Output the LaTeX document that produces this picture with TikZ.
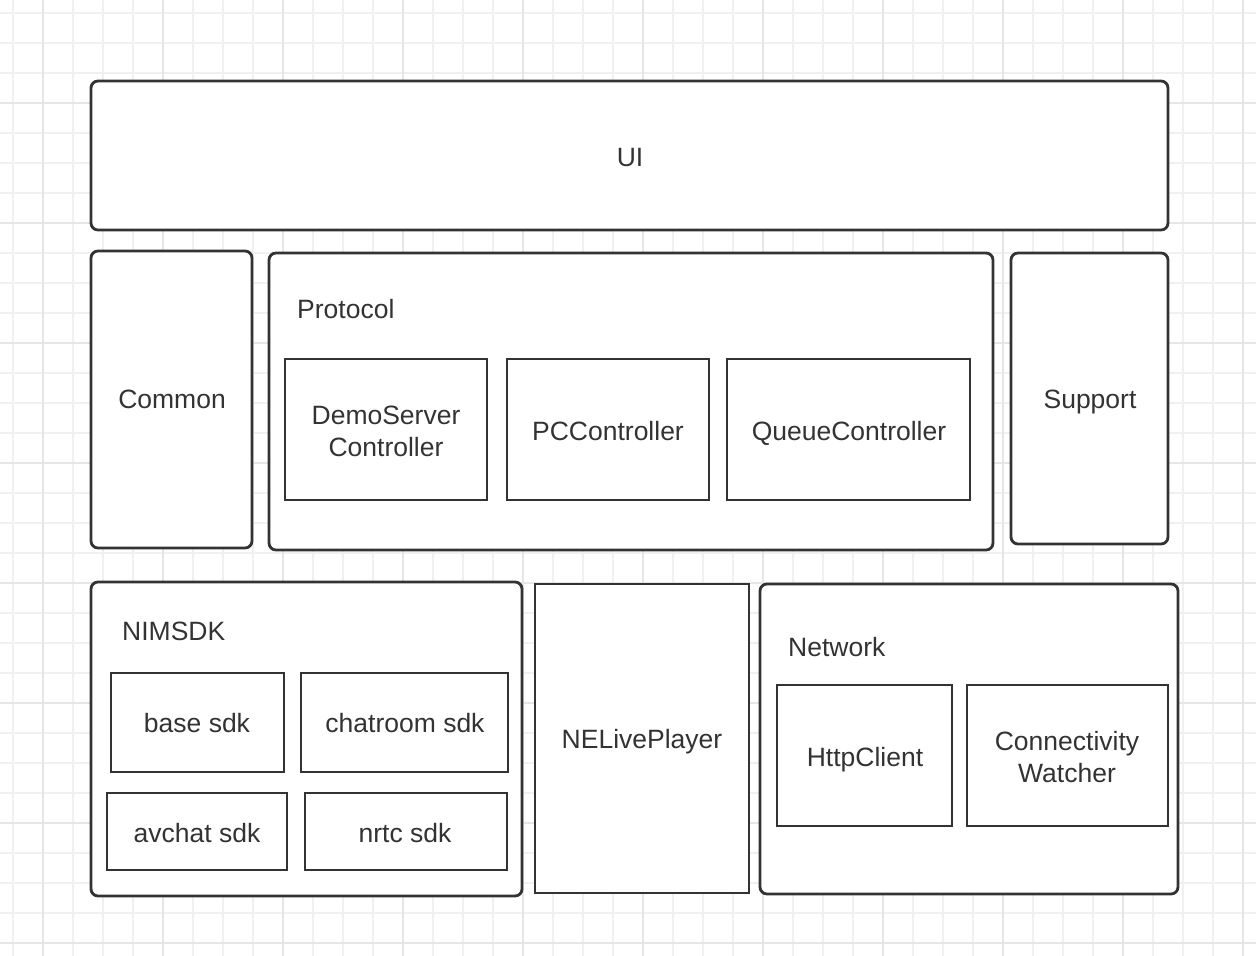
\documentclass[tikz,border=0pt]{standalone}
\usepackage{fontspec}
\setmainfont{Liberation Sans}
\begin{document}
\begin{tikzpicture}[x=1pt,y=-1pt,
  outer/.style={draw=boxgray, line width=2.8pt, rounded corners=7pt, fill=white, inner sep=0pt},
  inner/.style={draw=boxgray, line width=2.8pt, fill=white, inner sep=0pt},
  lbl/.style={text=txtgray, font=\fontsize{26.5}{32}\selectfont, align=center, inner sep=0pt},
  lbl1/.style={lbl, text height=19pt, text depth=0pt},
  minor/.style={draw=gridminor, line width=1.2pt},
  major/.style={draw=gridmajor, line width=1.6pt}]
\definecolor{boxgray}{HTML}{333333}
\definecolor{txtgray}{HTML}{333333}
\definecolor{gridminor}{HTML}{F0F0F0}
\definecolor{gridmajor}{HTML}{E6E6E6}
\useasboundingbox (0,0) rectangle (1256,956);
\fill[white] (0,0) rectangle (1256,956);
% grid
\foreach \i in {0,...,41} {
  \pgfmathtruncatemacro{\xx}{13+30*\i}
  \draw[minor] (\xx,0) -- (\xx,956);
}
\foreach \i in {0,...,31} {
  \pgfmathtruncatemacro{\yy}{13+30*\i}
  \draw[minor] (0,\yy) -- (1256,\yy);
}
\foreach \i in {0,...,10} {
  \pgfmathtruncatemacro{\xx}{43+120*\i}
  \draw[major] (\xx,0) -- (\xx,956);
}
\foreach \i in {0,...,7} {
  \pgfmathtruncatemacro{\yy}{103+120*\i}
  \draw[major] (0,\yy) -- (1256,\yy);
}
% top
\node[outer, minimum width=1077pt, minimum height=149pt] (ui) at (629.5,155.5) {};
\node[lbl1] (uit) at (630,157) {UI};
% middle row
\node[outer, minimum width=161pt, minimum height=297pt] (common) at (171.5,399.5) {};
\node[lbl1] (commont) at (172,399) {Common};
\node[outer, minimum width=724pt, minimum height=297pt] (protocol) at (631,401.5) {};
\node[lbl1, anchor=west] (protocolt) at (297,309) {Protocol};
\node[inner, minimum width=202pt, minimum height=141pt] (demo) at (386,429.5) {};
\node[lbl] (demot) at (386,431) {DemoServer\\Controller};
\node[inner, minimum width=202pt, minimum height=141pt] (pc) at (608,429.5) {};
\node[lbl1] (pct) at (608,431) {PCController};
\node[inner, minimum width=243pt, minimum height=141pt] (queue) at (848.5,429.5) {};
\node[lbl1] (queuet) at (849,431) {QueueController};
\node[outer, minimum width=157pt, minimum height=291pt] (support) at (1089.5,398.5) {};
\node[lbl1] (supportt) at (1090,399) {Support};
% bottom row
\node[outer, minimum width=431pt, minimum height=314pt] (nimsdk) at (306.5,739) {};
\node[lbl1, anchor=west] (nimsdkt) at (122,631) {NIMSDK};
\node[inner, minimum width=173pt, minimum height=99pt] (base) at (197.5,722.5) {};
\node[lbl1] (baset) at (197,723) {base sdk};
\node[inner, minimum width=207pt, minimum height=99pt] (chat) at (404.5,722.5) {};
\node[lbl1] (chatt) at (405,723) {chatroom sdk};
\node[inner, minimum width=180pt, minimum height=77pt] (av) at (197,831.5) {};
\node[lbl1] (avt) at (197,833) {avchat sdk};
\node[inner, minimum width=202pt, minimum height=77pt] (nrtc) at (406,831.5) {};
\node[lbl1] (nrtct) at (405,833) {nrtc sdk};
\node[inner, minimum width=214pt, minimum height=309pt] (player) at (642,738.5) {};
\node[lbl1] (playert) at (642,739) {NELivePlayer};
\node[outer, minimum width=418pt, minimum height=310pt] (network) at (969,739) {};
\node[lbl1, anchor=west] (networkt) at (788,647) {Network};
\node[inner, minimum width=175pt, minimum height=141pt] (http) at (864.5,755.5) {};
\node[lbl1] (httpt) at (865,757) {HttpClient};
\node[inner, minimum width=201pt, minimum height=141pt] (conn) at (1067.5,755.5) {};
\node[lbl] (connt) at (1067,757) {Connectivity\\Watcher};
\end{tikzpicture}
\end{document}
